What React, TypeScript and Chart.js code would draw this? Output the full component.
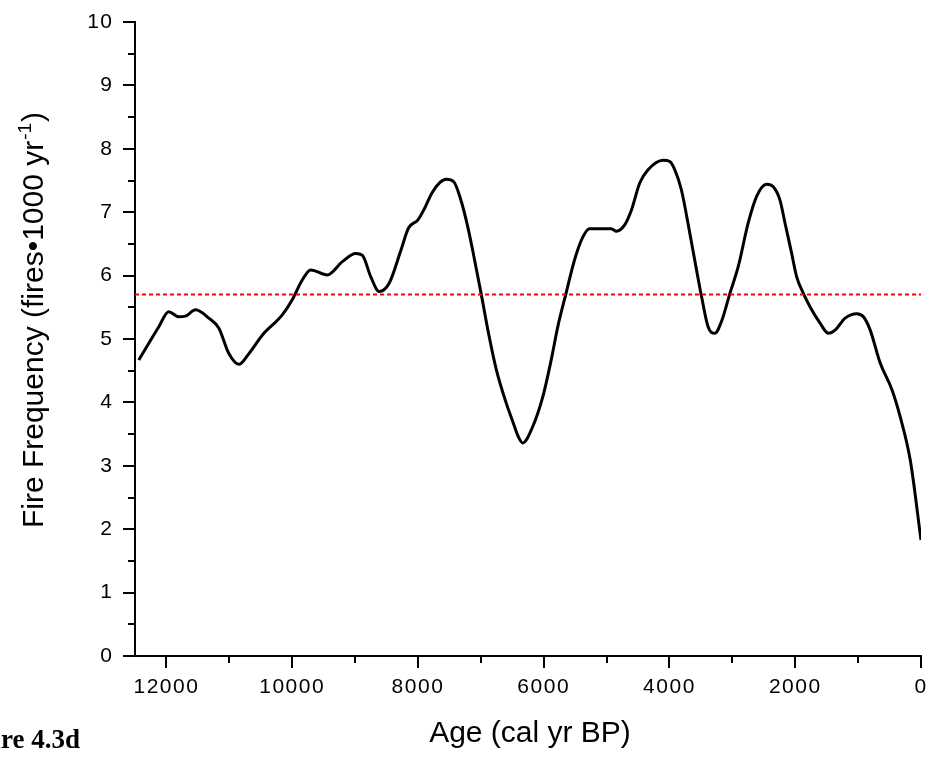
import React, { useEffect, useRef } from 'react';
import { Chart, registerables } from 'chart.js';

Chart.register(...registerables);

// ---- Data ----
const ages = [
  12440, 12283, 12123, 11964, 11804, 11698, 11538, 11326, 11166, 11007,
  10848, 10688, 10476, 10158, 9999, 9840, 9706, 9441, 9202, 8990,
  8883, 8750, 8617, 8458, 8271, 8150, 8000, 7900, 7780, 7650,
  7550, 7430, 7320, 7215, 7130, 6996, 6870, 6750, 6600, 6493,
  6400, 6334, 6174, 6014, 5881, 5775, 5650, 5509, 5377, 5270,
  4925, 4845, 4712, 4606, 4473, 4341, 4102, 3995, 3916, 3810,
  3677, 3570, 3490, 3385, 3278, 3172, 3039, 2907, 2748, 2614,
  2455, 2349, 2243, 2163, 2057, 1977, 1871, 1765, 1605, 1473,
  1366, 1206, 1020, 915, 808, 649, 462, 330, 171, 0,
];
const fireFrequency = [
  4.67, 4.93, 5.19, 5.43, 5.35, 5.36, 5.46, 5.33, 5.17, 4.77,
  4.6, 4.77, 5.06, 5.38, 5.62, 5.93, 6.09, 6.01, 6.22, 6.35,
  6.32, 5.98, 5.75, 5.88, 6.4, 6.75, 6.88, 7.05, 7.3, 7.47,
  7.52, 7.48, 7.2, 6.8, 6.4, 5.72, 5.05, 4.5, 4.0, 3.7,
  3.45, 3.36, 3.62, 4.09, 4.67, 5.2, 5.7, 6.25, 6.61, 6.74,
  6.74, 6.7, 6.8, 7.03, 7.46, 7.67, 7.82, 7.8, 7.67, 7.35,
  6.67, 6.09, 5.67, 5.19, 5.09, 5.28, 5.72, 6.14, 6.83, 7.25,
  7.44, 7.4, 7.19, 6.83, 6.35, 5.98, 5.72, 5.51, 5.25, 5.09,
  5.14, 5.33, 5.4, 5.35, 5.14, 4.62, 4.2, 3.77, 3.09, 1.83,
];
const meanFrequency = 5.7;

const xMin = 0;
const xMax = 12500;
const yMin = 0;
const yMax = 10;
const xMajorTicks = [12000, 10000, 8000, 6000, 4000, 2000, 0];
const xMinorTicks = [11000, 9000, 7000, 5000, 3000, 1000];
const yMajorTicks = [0, 1, 2, 3, 4, 5, 6, 7, 8, 9, 10];
const yMinorTicks = [0.5, 1.5, 2.5, 3.5, 4.5, 5.5, 6.5, 7.5, 8.5, 9.5];

const xTitle = 'Age (cal yr BP)';
const yTitleMain = 'Fire Frequency (fires\u20221000 yr';
const yTitleSup = '-1';
const yTitleEnd = ')';
const caption = 'Figure 4.3d';

const SANS = '"Liberation Sans", Arial, Helvetica, sans-serif';
const SERIF = '"Liberation Serif", "Times New Roman", serif';

const decorPlugin = {
  id: 'decor',
  beforeDraw(chart: any) {
    (chart.ctx as any).letterSpacing = '1.5px';
  },
  afterDraw(chart: any) {
    const ctx = chart.ctx as CanvasRenderingContext2D;
    (ctx as any).letterSpacing = '0px';
    const xs = chart.scales.x;
    const ys = chart.scales.y;
    const area = chart.chartArea;
    ctx.save();
    // tick marks
    ctx.strokeStyle = '#000';
    ctx.lineWidth = 2;
    ctx.beginPath();
    xMajorTicks.forEach((v) => {
      const p = Math.round(xs.getPixelForValue(v));
      ctx.moveTo(p, area.bottom);
      ctx.lineTo(p, area.bottom + 12);
    });
    xMinorTicks.forEach((v) => {
      const p = Math.round(xs.getPixelForValue(v));
      ctx.moveTo(p, area.bottom);
      ctx.lineTo(p, area.bottom + 7);
    });
    yMajorTicks.forEach((v) => {
      const p = Math.round(ys.getPixelForValue(v));
      ctx.moveTo(area.left, p);
      ctx.lineTo(area.left - 12, p);
    });
    yMinorTicks.forEach((v) => {
      const p = Math.round(ys.getPixelForValue(v));
      ctx.moveTo(area.left, p);
      ctx.lineTo(area.left - 7, p);
    });
    ctx.stroke();

    // x title
    ctx.fillStyle = '#000';
    ctx.font = `30px ${SANS}`;
    ctx.textAlign = 'center';
    ctx.textBaseline = 'alphabetic';
    ctx.fillText(xTitle, (area.left + area.right) / 2 + 2, area.bottom + 86);

    // y title (rotated, with superscript)
    ctx.save();
    ctx.translate(area.left - 92, (area.top + area.bottom) / 2 - 19);
    ctx.rotate(-Math.PI / 2);
    ctx.textAlign = 'left';
    ctx.font = `30px ${SANS}`;
    const wMain = ctx.measureText(yTitleMain).width;
    const wEnd = ctx.measureText(yTitleEnd).width;
    ctx.font = `19px ${SANS}`;
    const wSup = ctx.measureText(yTitleSup).width + 2;
    const total = wMain + wSup + wEnd;
    let x0 = -total / 2;
    ctx.font = `30px ${SANS}`;
    ctx.fillText(yTitleMain, x0, 0);
    x0 += wMain;
    ctx.font = `19px ${SANS}`;
    ctx.fillText(yTitleSup, x0 + 1, -12);
    x0 += wSup;
    ctx.font = `30px ${SANS}`;
    ctx.fillText(yTitleEnd, x0, 0);
    ctx.restore();

    // figure caption (partly cut by the left edge)
    ctx.font = `bold 27px ${SERIF}`;
    ctx.textAlign = 'right';
    ctx.textBaseline = 'alphabetic';
    ctx.fillText(caption, 80, area.bottom + 92);
    ctx.restore();
  },
};

export default function App() {
  const canvasRef = useRef<HTMLCanvasElement | null>(null);

  useEffect(() => {
    const canvas = canvasRef.current;
    if (!canvas) return;
    const chart = new Chart(canvas, {
      type: 'line',
      data: {
        datasets: [
          {
            label: 'Mean',
            data: [
              { x: xMax, y: meanFrequency },
              { x: xMin, y: meanFrequency },
            ],
            borderColor: '#ff0000',
            borderWidth: 2,
            borderDash: [4, 3],
            pointRadius: 0,
            fill: false,
          },
          {
            label: 'Fire frequency',
            data: ages.map((a, i) => ({ x: a, y: fireFrequency[i] })),
            borderColor: '#000000',
            borderWidth: 3,
            pointRadius: 0,
            fill: false,
            cubicInterpolationMode: 'monotone',
          },
        ],
      },
      options: {
        responsive: false,
        animation: false,
        events: [],
        layout: { padding: { left: 0, top: 22, right: 8, bottom: 0 } },
        plugins: {
          legend: { display: false },
          tooltip: { enabled: false },
          title: { display: false },
        },
        scales: {
          x: {
            type: 'linear',
            reverse: true,
            min: xMin,
            max: xMax,
            grid: { display: false, drawTicks: false },
            border: { display: true, color: '#000', width: 2 },
            afterBuildTicks: (scale: any) => {
              scale.ticks = xMajorTicks.map((v) => ({ value: v }));
            },
            afterFit: (scale: any) => {
              scale.height = 102;
              scale.paddingLeft = 0;
              scale.paddingRight = 0;
            },
            ticks: {
              autoSkip: false,
              maxRotation: 0,
              padding: 19,
              color: '#000',
              font: { family: SANS, size: 21 },
              callback: (v: any) => String(v),
            },
          },
          y: {
            type: 'linear',
            min: yMin,
            max: yMax,
            grid: { display: false, drawTicks: false },
            border: { display: true, color: '#000', width: 2 },
            afterBuildTicks: (scale: any) => {
              scale.ticks = yMajorTicks.map((v) => ({ value: v }));
            },
            afterFit: (scale: any) => {
              scale.width = 135;
              scale.paddingTop = 0;
              scale.paddingBottom = 0;
            },
            ticks: {
              autoSkip: false,
              padding: 21.5,
              color: '#000',
              font: { family: SANS, size: 21 },
              callback: (v: any) => String(v),
            },
          },
        },
      },
      plugins: [decorPlugin],
    } as any);
    return () => chart.destroy();
  }, []);

  return (
    <div style={{ position: 'absolute', left: 0, top: 0, width: 929, height: 758, background: '#fff' }}>
      <canvas ref={canvasRef} width={929} height={758} style={{ display: 'block' }} />
    </div>
  );
}
